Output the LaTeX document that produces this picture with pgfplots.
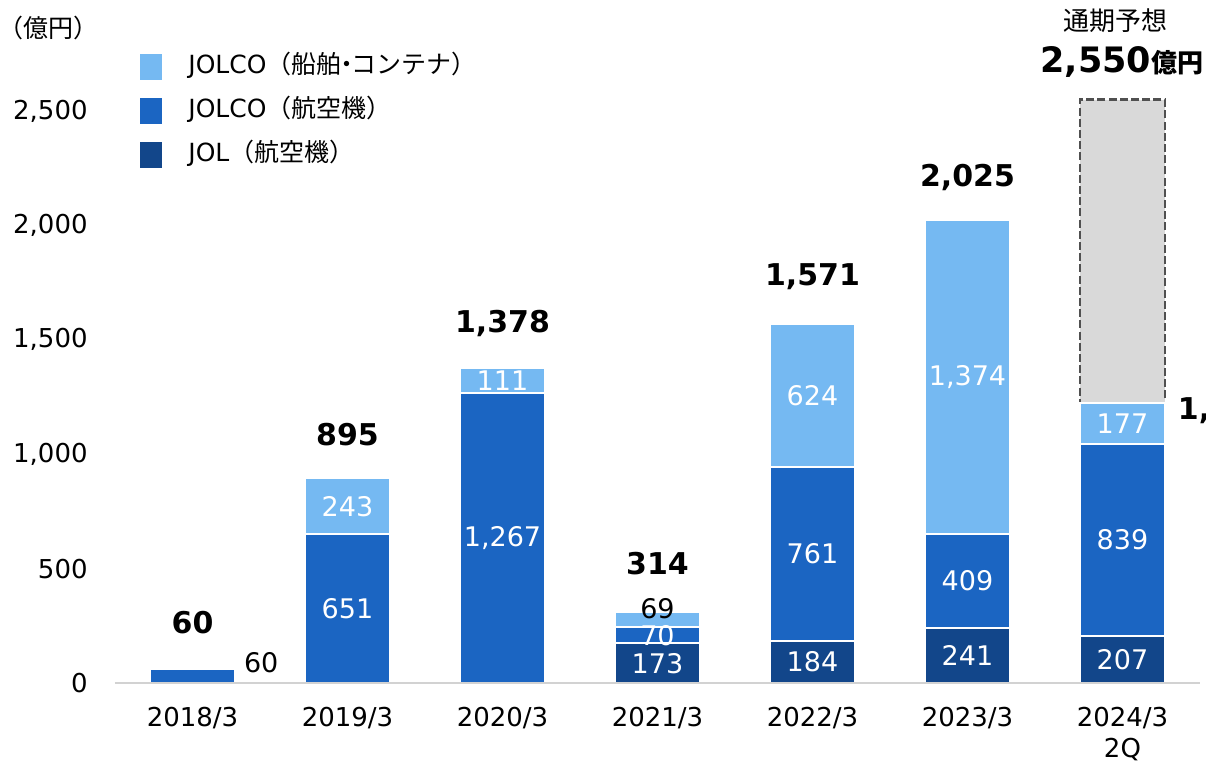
\documentclass[border=0pt]{standalone}
\usepackage{fontspec}
\setmainfont{DejaVu Sans}
\newfontfamily\jp{Noto Sans CJK JP}
\usepackage{pgfplots}
\pgfplotsset{compat=1.18}
\definecolor{cLight}{RGB}{117,185,242}
\definecolor{cMid}{RGB}{27,101,194}
\definecolor{cDark}{RGB}{18,70,138}
\definecolor{cGray}{RGB}{217,217,217}
\definecolor{cDash}{RGB}{80,80,80}
\definecolor{cAxis}{RGB}{210,210,210}
\pgfplotsset{base/.style={
  at={(0pt,0pt)}, anchor=south west, scale only axis,
  width=542.5pt, height=341.5pt,
  xmin=-0.5, xmax=6.5, ymin=0, ymax=2985, clip=false}}
\begin{document}
\begin{tikzpicture}
\useasboundingbox (-57.5pt,-40.5pt) rectangle (545.5pt,341.5pt);
% forecast box
\begin{axis}[base, hide axis, ybar, bar width=42.5pt]
\addplot[fill=cGray, draw=cDash, dash pattern=on 4pt off 1.6pt, line width=1.3pt, bar shift=0pt] coordinates {(6,2550)};
\end{axis}
% stacked bars
\begin{axis}[base, ybar stacked, bar width=42.5pt, axis on top,
  axis lines*=left,
  y axis line style={draw=none},
  x axis line style={cAxis, line width=0.8pt},
  tick style={draw=none},
  xtick={0,...,6},
  xticklabels={2018/3,2019/3,2020/3,2021/3,2022/3,2023/3,{2024/3\\2Q}},
  xticklabel style={align=center, anchor=north, inner sep=0pt, yshift=-12pt, font=\fontsize{13}{15.5}\selectfont},
  ytick={0,500,...,2500},
  yticklabel style={anchor=east, inner sep=0pt, xshift=-13.5pt, font=\fontsize{13}{15}\selectfont},
  /pgf/number format/.cd, 1000 sep={,}, assume math mode=true, /pgfplots/.cd,
  legend image code/.code={\fill[#1] (0pt,-7pt) rectangle (12pt,7pt);},
  reverse legend,
  legend cell align=left,
  legend style={at={(0.0212,0.924)}, anchor=north west, draw=none, fill=none,
    inner sep=0pt, row sep=7pt, font=\fontsize{12.5}{15}\selectfont,
    /tikz/every odd column/.append style={column sep=12pt},
    nodes={inner sep=0pt, text height=10pt, text depth=4pt}},
]
\addplot[fill=cDark, draw=white, line width=1pt] coordinates {(0,0)(1,0)(2,0)(3,173)(4,184)(5,241)(6,207)};
\addlegendentry{JOL{\jp （航空機）}}
\addplot[fill=cMid, draw=white, line width=1pt] coordinates {(0,60)(1,651)(2,1267)(3,70)(4,761)(5,409)(6,839)};
\addlegendentry{JOLCO{\jp （航空機）}}
\addplot[fill=cLight, draw=white, line width=1pt] coordinates {(0,0)(1,243)(2,111)(3,69)(4,624)(5,1374)(6,177)};
\addlegendentry{JOLCO{\jp （船舶\kern-0.3em・\kern-0.3emコンテナ）}}
\end{axis}
% labels
\begin{axis}[base, hide axis]
\addplot[draw=none, mark=none, nodes near coords, point meta=explicit symbolic,
  every node near coord/.append style={anchor=center, text=white, inner sep=0pt, font=\fontsize{13.5}{16}\selectfont}]
  table[x=x, y=y, meta=lab]{
x y lab
1 325 651
1 772 243
2 633 1,267
2 1322 111
3 208 70
3 86 173
4 92 184
4 564 761
4 1257 624
5 120 241
5 445 409
5 1337 1,374
6 103 207
6 626 839
6 1134 177
};
\addplot[draw=none, mark=none, nodes near coords, point meta=explicit symbolic,
  every node near coord/.append style={anchor=center, text=black, inner sep=0pt, font=\fontsize{13.5}{16}\selectfont}]
  table[x=x, y=y, meta=lab]{
x y lab
3 323 69
};
\addplot[draw=none, mark=none, nodes near coords, point meta=explicit symbolic,
  every node near coord/.append style={anchor=west, text=black, inner sep=0pt, font=\fontsize{13.5}{16}\selectfont}]
  table[x=x, y=y, meta=lab]{
x y lab
0.33 87 60
};
\addplot[draw=none, mark=none, nodes near coords, point meta=explicit symbolic,
  every node near coord/.append style={anchor=center, text=black, inner sep=0pt, font=\fontsize{15}{18}\bfseries}]
  table[x=x, y=y, meta=lab]{
x y lab
0 262 60
1 1084 895
2 1573 1,378
3 524 314
4 1774 1,571
5 2207 2,025
};
\addplot[draw=none, mark=none, nodes near coords, point meta=explicit symbolic,
  every node near coord/.append style={anchor=west, text=black, inner sep=0pt, font=\fontsize{15}{18}\bfseries}]
  table[x=x, y=y, meta=lab]{
x y lab
6.355 1193 1,223
};
\end{axis}
\node[font=\jp\fontsize{12.5}{15}\selectfont] at (-33pt,327.5pt) {（億円）};
\node[font=\jp\fontsize{13}{15}\selectfont] at (500pt,331pt) {通期予想};
\node[anchor=west, inner sep=0pt] at (462.5pt,310.5pt) {{\fontsize{17.5}{20}\bfseries 2,550}{\jp\bfseries\fontsize{13}{15}\selectfont 億円}};
\end{tikzpicture}
\end{document}
